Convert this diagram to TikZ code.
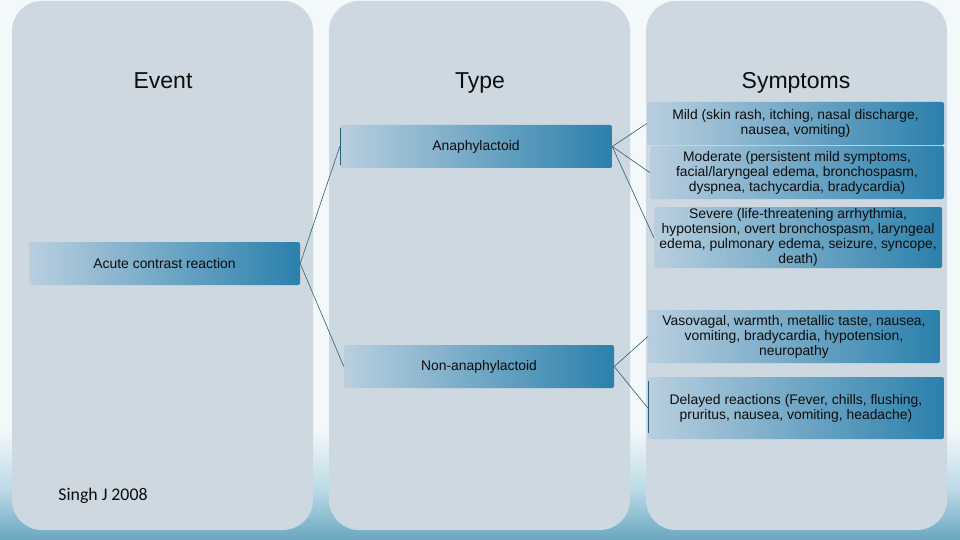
\documentclass[tikz,border=0pt]{standalone}
\usepackage{fontspec}
\setmainfont{Liberation Sans}
\newfontfamily\calib{Carlito}
\definecolor{bgtop}{HTML}{F3F8FA}
\definecolor{bgmid}{HTML}{BBDAE6}
\definecolor{bgbot}{HTML}{68A7BF}
\definecolor{panel}{HTML}{CDD8E0}
\definecolor{boxl}{HTML}{B9CFDF}
\definecolor{boxr}{HTML}{2A80AC}
\definecolor{conn}{HTML}{2B5F73}
\definecolor{txt}{HTML}{0D0D0D}
\tikzset{
  panelbox/.style={fill=panel, rounded corners=30pt},
  itembox/.style={left color=boxl, right color=boxr, rounded corners=2pt, inner sep=1pt,
    align=center, text=txt, font=\fontsize{13.9}{15}\selectfont},
  header/.style={text=txt, anchor=base, font=\fontsize{23}{27}\selectfont},
  link/.style={draw=conn, line width=0.6pt},
}
\begin{document}
\begin{tikzpicture}[x=1pt,y=-1pt]
\useasboundingbox (0,0) rectangle (960,540);
% background
\fill[bgtop] (0,0) rectangle (960,430);
\fill[top color=bgtop, bottom color=bgmid] (0,429.5) rectangle (960,490);
\fill[top color=bgmid, bottom color=bgbot] (0,489.5) rectangle (960,540);
% panels
\fill[panelbox] (12,1) rectangle (313,530);
\fill[panelbox] (329,1) rectangle (630,530);
\fill[panelbox] (646,1) rectangle (947,530);
% headers
\node[header] (hEvent) at (163,89) {Event};
\node[header] (hType) at (480,89) {Type};
\node[header] (hSym) at (796,89) {Symptoms};
% boxes
\node[itembox, minimum width=271pt, minimum height=43pt] (acute) at (164.5,263.5) {Acute contrast reaction};
\node[itembox, minimum width=272pt, minimum height=43pt] (anaph) at (476,146.5) {Anaphylactoid};
\node[itembox, minimum width=270pt, minimum height=43pt] (nonanaph) at (479,366.5) {Non-anaphylactoid};
\node[itembox, minimum width=297pt, minimum height=43pt] (mild) at (795.5,123.5) {Mild (skin rash, itching, nasal discharge,\\nausea, vomiting)};
\node[itembox, minimum width=294pt, minimum height=53pt] (moderate) at (797,172.5) {Moderate (persistent mild symptoms,\\facial/laryngeal edema, bronchospasm,\\dyspnea, tachycardia, bradycardia)};
\node[itembox, minimum width=288pt, minimum height=61pt] (severe) at (798,237.5) {Severe (life-threatening arrhythmia,\\hypotension, overt bronchospasm, laryngeal\\edema, pulmonary edema, seizure, syncope,\\death)};
\node[itembox, minimum width=292pt, minimum height=53pt] (vaso) at (794,336.5) {Vasovagal, warmth, metallic taste, nausea,\\vomiting, bradycardia, hypotension,\\neuropathy};
\node[itembox, minimum width=296pt, minimum height=62pt] (delayed) at (796,408) {Delayed reactions (Fever, chills, flushing,\\pruritus, nausea, vomiting, headache)};
% connectors
\draw[link] (acute.east) -- (anaph.west);
\draw[link] (acute.east) -- (nonanaph.west);
\draw[link] (anaph.east) -- (mild.west);
\draw[link] (anaph.east) -- (moderate.west);
\draw[link] (anaph.east) -- (severe.west);
\draw[link] (nonanaph.east) -- (vaso.west);
\draw[link] (nonanaph.east) -- (delayed.west);
\draw[link] ([yshift=-3pt]anaph.north west) -- ([yshift=3pt]anaph.south west);
\draw[link] ([yshift=-4pt]delayed.north west) -- ([yshift=6pt]delayed.south west);
% source
\node[text=txt, font=\calib\fontsize{17.8}{21}\selectfont] (src) at (103,496) {Singh J 2008};
\end{tikzpicture}
\end{document}
